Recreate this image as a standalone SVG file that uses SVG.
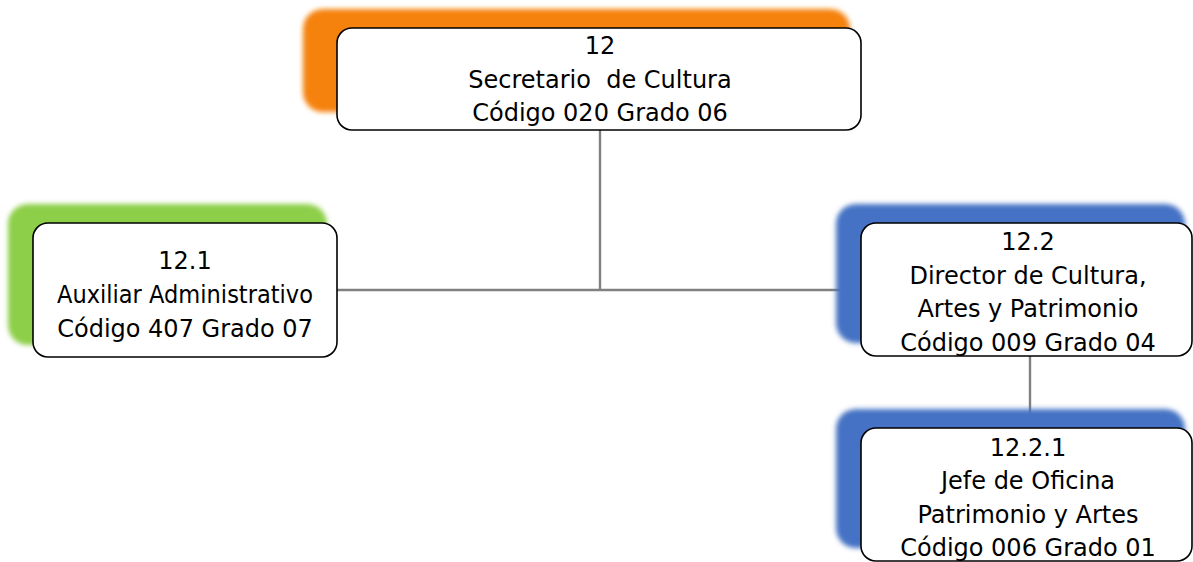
<svg xmlns="http://www.w3.org/2000/svg" width="1193" height="562" viewBox="0 0 1193 562">
<defs>
<filter id="blur" x="-10%" y="-10%" width="120%" height="120%"><feGaussianBlur stdDeviation="2.5"/></filter>
<style>
.box{fill:#ffffff;stroke:#000000;stroke-width:1.6}
.bg{filter:url(#blur)}
.t{font-family:"DejaVu Sans","Liberation Sans",Arial,sans-serif;font-size:24px;fill:#000;text-anchor:middle}
.c{stroke:#808080;stroke-width:2.4;fill:none}
</style>
</defs>
<rect width="1193" height="562" fill="#ffffff"/>
<g id="connectors">
<line class="c" x1="600" y1="130" x2="600" y2="290"/>
<line class="c" x1="337" y1="290" x2="861" y2="290"/>
<line class="c" x1="1030" y1="356" x2="1030" y2="428"/>
</g>
<g id="n12">
<rect class="bg" x="303" y="9" width="547" height="103" rx="20" fill="#F5820F"/>
<rect class="box" x="337" y="28" width="524" height="102" rx="15"/>
<text class="t" x="600" y="54">12</text>
<text class="t" x="600" y="88" xml:space="preserve">Secretario  de Cultura</text>
<text class="t" x="600" y="121">Código 020 Grado 06</text>
</g>
<g id="n12_1">
<rect class="bg" x="8" y="204" width="319" height="141" rx="20" fill="#8DCF4A"/>
<rect class="box" x="33" y="223" width="304" height="134" rx="15"/>
<text class="t" x="185" y="269">12.1</text>
<text class="t" x="185" y="303" textLength="256" lengthAdjust="spacingAndGlyphs">Auxiliar Administrativo</text>
<text class="t" x="185" y="337">Código 407 Grado 07</text>
</g>
<g id="n12_2">
<rect class="bg" x="836" y="204" width="349" height="139" rx="20" fill="#4472C4"/>
<rect class="box" x="861" y="223" width="331" height="133" rx="15"/>
<text class="t" x="1028" y="250">12.2</text>
<text class="t" x="1028" y="284">Director de Cultura,</text>
<text class="t" x="1028" y="317">Artes y Patrimonio</text>
<text class="t" x="1028" y="351">Código 009 Grado 04</text>
</g>
<g id="n12_2_1">
<rect class="bg" x="836" y="409" width="349" height="139" rx="20" fill="#4472C4"/>
<rect class="box" x="861" y="428" width="331" height="133" rx="15"/>
<text class="t" x="1028" y="456">12.2.1</text>
<text class="t" x="1028" y="489">Jefe de Oficina</text>
<text class="t" x="1028" y="523">Patrimonio y Artes</text>
<text class="t" x="1028" y="556">Código 006 Grado 01</text>
</g>
</svg>
